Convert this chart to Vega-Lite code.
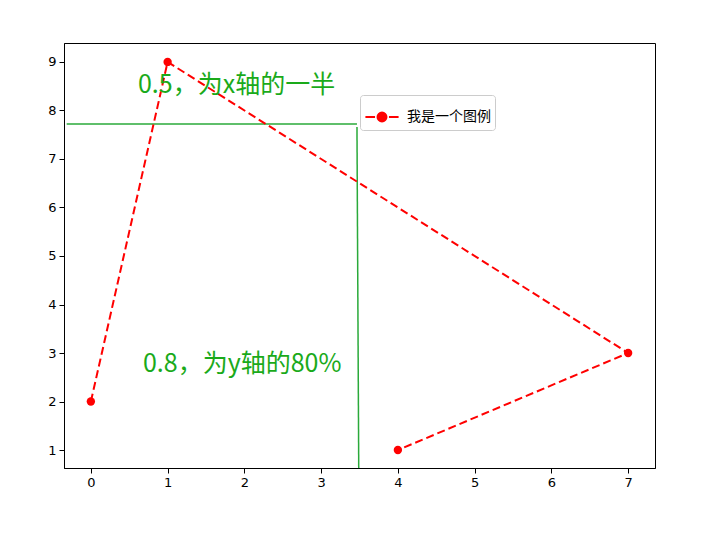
{
  "$schema": "https://vega.github.io/schema/vega-lite/v6.json",
  "width": 591,
  "height": 425,
  "autosize": {"type": "none"},
  "padding": {"left": 64, "top": 43, "right": 51, "bottom": 77},
  "background": "white",
  "config": {
    "view": {"stroke": "black", "strokeWidth": 1},
    "axis": {
      "grid": false,
      "domainColor": "black",
      "tickColor": "black",
      "tickSize": 5,
      "labelFont": "DejaVu Sans",
      "labelFontSize": 13,
      "labelColor": "black",
      "labelPadding": 3,
      "title": null
    }
  },
  "datasets": {
    "points": [
      {"step": 1, "x": 0, "y": 2, "series": "我是一个图例"},
      {"step": 2, "x": 1, "y": 9, "series": "我是一个图例"},
      {"step": 3, "x": 7, "y": 3, "series": "我是一个图例"},
      {"step": 4, "x": 4, "y": 1, "series": "我是一个图例"}
    ],
    "guides": [
      {"x": -0.315, "x2": 3.467, "y": 7.72, "y2": 7.72},
      {"x": 3.467, "x2": 3.49, "y": 7.66, "y2": 0.63}
    ],
    "notes": [
      {"x": 0.614, "y": 8.53, "text": "0.5，为x轴的一半"},
      {"x": 0.679, "y": 2.78, "text": "0.8，为y轴的80%"}
    ]
  },
  "layer": [
    {
      "data": {"name": "guides"},
      "mark": {"type": "rule", "color": "#2aaa3a", "strokeWidth": 1.5},
      "encoding": {
        "x": {"field": "x", "type": "quantitative"},
        "x2": {"field": "x2"},
        "y": {"field": "y", "type": "quantitative"},
        "y2": {"field": "y2"}
      }
    },
    {
      "data": {"name": "points"},
      "mark": {
        "type": "line",
        "strokeDash": [8, 4],
        "strokeWidth": 2,
        "point": {"filled": true, "size": 70, "opacity": 1}
      },
      "encoding": {
        "x": {
          "field": "x",
          "type": "quantitative",
          "scale": {"domain": [-0.35, 7.35], "nice": false, "zero": false},
          "axis": {"values": [0, 1, 2, 3, 4, 5, 6, 7], "format": "d"}
        },
        "y": {
          "field": "y",
          "type": "quantitative",
          "scale": {"domain": [0.63, 9.39], "nice": false, "zero": false},
          "axis": {"values": [1, 2, 3, 4, 5, 6, 7, 8, 9], "format": "d"}
        },
        "order": {"field": "step"},
        "color": {
          "field": "series",
          "type": "nominal",
          "scale": {"range": ["red"]},
          "legend": {
            "title": null,
            "orient": "none",
            "legendX": 296,
            "legendY": 52,
            "fillColor": "white",
            "strokeColor": "#cccccc",
            "cornerRadius": 3,
            "padding": 4,
            "symbolType": "M -1 0 H -0.42 M -0.27 0 A 0.27 0.27 0 1 1 0.27 0 A 0.27 0.27 0 1 1 -0.27 0 Z M 0.42 0 H 1",
            "symbolSize": 1100,
            "symbolStrokeWidth": 2,
            "symbolFillColor": "red",
            "symbolStrokeColor": "red",
            "labelFont": "Noto Sans CJK SC",
            "labelFontSize": 14,
            "labelColor": "black",
            "labelOffset": 7
          }
        }
      }
    },
    {
      "data": {"name": "notes"},
      "mark": {
        "type": "text",
        "align": "left",
        "baseline": "middle",
        "font": "Noto Sans CJK SC",
        "fontSize": 25,
        "color": "#1aaa1a"
      },
      "encoding": {
        "x": {"field": "x", "type": "quantitative"},
        "y": {"field": "y", "type": "quantitative"},
        "text": {"field": "text"}
      }
    }
  ]
}
